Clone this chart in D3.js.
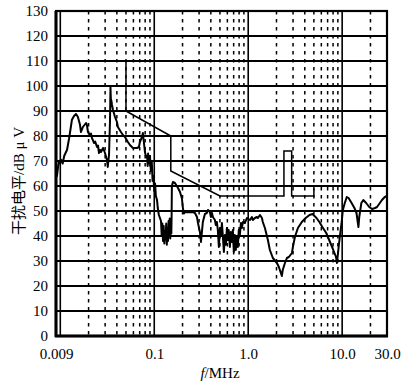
<!DOCTYPE html>
<html>
<head>
<meta charset="utf-8">
<script src="https://cdn.jsdelivr.net/npm/d3@7"></script>
<style>
  body { margin: 0; background: #fff; }
  svg { display: block; }
  text { font-family: "Liberation Serif", "Noto Sans CJK SC", serif; fill: #000; }
</style>
</head>
<body>
<svg width="417" height="384"></svg>
<script>
// measured trace: [frequency MHz, level dBuV]
var traceData = [
  [0.009, 66], [0.0092, 64], [0.0095, 68], [0.0098, 70], [0.0102, 70.5], [0.0106, 69],
  [0.011, 72], [0.0118, 74.5], [0.0124, 79], [0.013, 84], [0.0133, 86.5], [0.014, 88],
  [0.0147, 88.8], [0.0154, 87.6], [0.0162, 84.5], [0.0166, 81.6], [0.0174, 83.6],
  [0.0188, 85.2], [0.0192, 84.4], [0.0197, 81.6], [0.0207, 80.4], [0.0212, 81], [0.0217, 79.2],
  [0.0222, 78.4], [0.0228, 77.2], [0.0235, 77.8], [0.0246, 75.6], [0.0252, 76.2], [0.0258, 73.2],
  [0.0265, 74.4], [0.0271, 73.6], [0.0285, 75.2], [0.0299, 73.2], [0.0314, 70.4], [0.032, 67.6],
  [0.033, 72.4], [0.0338, 86], [0.0342, 99.6], [0.0345, 95], [0.035, 94], [0.0355, 92.4],
  [0.0364, 90.4], [0.0382, 87.6], [0.0401, 85.6], [0.041, 83.6], [0.0442, 81.6], [0.0464, 80.4],
  [0.0488, 79.6], [0.0524, 77.6], [0.0551, 76.4], [0.0593, 75.2], [0.0655, 75.2], [0.0687, 75.6],
  [0.0703, 77.6], [0.074, 79.6], [0.0757, 81.2], [0.0775, 77.6], [0.0796, 73.6], [0.082, 71.5],
  [0.084, 72], [0.085, 68], [0.086, 73], [0.088, 69], [0.09, 72], [0.092, 66], [0.094, 70],
  [0.096, 62], [0.098, 64], [0.1, 58], [0.102, 61], [0.104, 56], [0.107, 54.4], [0.109, 51.2],
  [0.112, 48.4], [0.118, 46], [0.12, 40], [0.122, 45], [0.124, 38], [0.126, 44], [0.128, 37],
  [0.13, 42], [0.132, 38.5], [0.134, 45], [0.136, 36.5], [0.138, 43], [0.14, 38], [0.142, 46],
  [0.144, 40], [0.146, 47], [0.148, 39], [0.15, 45], [0.152, 41], [0.153, 48], [0.154, 60],
  [0.158, 61.6], [0.166, 61.2], [0.179, 59.2], [0.188, 57.6], [0.197, 55], [0.202, 51],
  [0.207, 49], [0.212, 49.6], [0.24, 49.5], [0.258, 49.6], [0.271, 49.2], [0.285, 47.6],
  [0.292, 45.2], [0.306, 41.6], [0.314, 37.6], [0.321, 41.2], [0.329, 45.6], [0.346, 48.8],
  [0.363, 49.2], [0.373, 50.4], [0.391, 49.6], [0.401, 47.6], [0.411, 49.2], [0.421, 47.6],
  [0.442, 46.4], [0.452, 44.4], [0.464, 45.6], [0.475, 42.4], [0.487, 35.6], [0.5, 43.2],
  [0.512, 40], [0.525, 45.2], [0.538, 39.6], [0.551, 33.6], [0.565, 40.4], [0.58, 36.5],
  [0.593, 43.2], [0.607, 38.4], [0.62, 42.4], [0.638, 35.6], [0.653, 41.6], [0.67, 37.6],
  [0.686, 42.4], [0.703, 33.6], [0.72, 40.4], [0.738, 34.4], [0.757, 39.6], [0.775, 35.6],
  [0.794, 42.4], [0.815, 40.5], [0.836, 45.2], [0.856, 43.2], [0.878, 45.6], [0.922, 45.2],
  [0.968, 47.2], [1.043, 46.4], [1.095, 47.6],
  [1.12, 46.4], [1.178, 47.2], [1.238, 47.6], [1.268, 47.2], [1.332, 48.4], [1.40, 47.2],
  [1.43, 45.6], [1.506, 43.2], [1.62, 38.4], [1.70, 34.4], [1.83, 31.2], [2.02, 29.2],
  [2.12, 27.6], [2.28, 24], [2.33, 26.4], [2.46, 29.2], [2.58, 31.2], [2.71, 31.6],
  [2.92, 33.2], [2.99, 35.6], [3.14, 39.6], [3.38, 43.2], [3.72, 45.6], [4.09, 47.2],
  [4.49, 48.4], [4.83, 48.8], [5.33, 47.2], [5.72, 45.6], [6.15, 43.6], [6.77, 41.2],
  [7.27, 38.4], [7.81, 35.6], [8.2, 33.6], [8.6, 31.6], [8.8, 29.2], [9.25, 36.8],
  [9.93, 46.4], [10.17, 50.4], [10.66, 53.2], [11.2, 55.6], [11.7, 55.2], [12.6, 53.2],
  [13.5, 51.2], [14.2, 49.2], [14.9, 43.6], [15.2, 47.6], [16.0, 53.2], [16.8, 54.4],
  [18.0, 53.2], [19.4, 51.6], [20.8, 50.8], [22.4, 51.2], [23.5, 51.6], [25.2, 53.2],
  [26.5, 54.4], [28.4, 55.6], [30, 56]
];

// limit line
var limitFreq = [0.05, 0.05, 0.15, 0.15, 0.5, 2.4, 2.4, 2.9, 2.9, 5, 5];
var limitLevel = [110, 90, 80, 66, 56, 56, 74, 74, 56, 56, 59];

// axis ticks
var yTicks = [0, 10, 20, 30, 40, 50, 60, 70, 80, 90, 100, 110, 120, 130];
var xTickValues = [0.009, 0.1, 1, 10, 30];
var xTickLabels = ['0.009', '0.1', '1.0', '10.0', '30.0'];
var majorLines = [0.01, 0.1, 1, 10];

var svg = d3.select('svg');

var plotLeft = 56, plotRight = 387, plotTop = 11, plotBottom = 336;

var x = d3.scaleLog().domain([0.009, 30]).range([plotLeft, plotRight]);
var y = d3.scaleLinear().domain([0, 130]).range([plotBottom, plotTop]);

// minor (dotted) frequency lines
var minorLines = [];
[0.01, 0.1, 1, 10].forEach(function(dec) {
    for (var k = 2; k <= 9; k++) {
        var f = dec * k;
        if (f < 30) minorLines.push(f);
    }
});

svg.append('g')
    .selectAll('line')
    .data(minorLines)
    .enter()
    .append('line')
    .attr('x1', d => x(d)).attr('x2', d => x(d))
    .attr('y1', plotTop).attr('y2', plotBottom)
    .attr('stroke', '#000')
    .attr('stroke-width', 1.5)
    .attr('stroke-dasharray', '3.5,4.5');

// decade lines
svg.append('g')
    .selectAll('line')
    .data(majorLines)
    .enter()
    .append('line')
    .attr('x1', d => x(d)).attr('x2', d => x(d))
    .attr('y1', plotTop).attr('y2', plotBottom)
    .attr('stroke', '#000')
    .attr('stroke-width', 1.6);

// horizontal grid
svg.append('g')
    .selectAll('line')
    .data(yTicks)
    .enter()
    .append('line')
    .attr('x1', plotLeft).attr('x2', plotRight)
    .attr('y1', d => y(d)).attr('y2', d => y(d))
    .attr('stroke', '#000')
    .attr('stroke-width', 2.2);

// frame
svg.append('rect')
    .attr('x', plotLeft).attr('y', plotTop)
    .attr('width', plotRight - plotLeft).attr('height', plotBottom - plotTop)
    .attr('fill', 'none')
    .attr('stroke', '#000')
    .attr('stroke-width', 2.2);
svg.append('line')
    .attr('x1', plotLeft).attr('x2', plotLeft)
    .attr('y1', plotTop).attr('y2', plotBottom + 1)
    .attr('stroke', '#000').attr('stroke-width', 3);
svg.append('line')
    .attr('x1', plotLeft - 1).attr('x2', plotRight + 1)
    .attr('y1', plotBottom).attr('y2', plotBottom)
    .attr('stroke', '#000').attr('stroke-width', 3);

// limit line
var line = d3.line()
    .x(d => x(d[0]))
    .y(d => y(d[1]));
svg.append('path')
    .datum(limitFreq.map((f, i) => [f, limitLevel[i]]))
    .attr('d', line)
    .attr('fill', 'none')
    .attr('stroke', '#000')
    .attr('stroke-width', 1.5);

// trace
svg.append('path')
    .datum(traceData)
    .attr('d', line)
    .attr('fill', 'none')
    .attr('stroke', '#000')
    .attr('stroke-width', 2)
    .attr('stroke-linejoin', 'round');

// y axis labels
var yAxis = d3.axisLeft(y).tickValues(yTicks).tickSize(0).tickPadding(8);
var gy = svg.append('g')
    .attr('transform', 'translate(' + plotLeft + ',0)')
    .call(yAxis);
gy.select('.domain').remove();
gy.selectAll('text')
    .style('font-size', '15px')
    .style('font-family', '"Liberation Serif", serif');

// x axis labels
var xAxis = d3.axisBottom(x)
    .tickValues(xTickValues)
    .tickFormat((d, i) => xTickLabels[i])
    .tickSize(0).tickPadding(12);
var gx = svg.append('g')
    .attr('transform', 'translate(0,' + plotBottom + ')')
    .call(xAxis);
gx.select('.domain').remove();
gx.selectAll('text')
    .style('font-size', '15px')
    .style('font-family', '"Liberation Serif", serif');

// x title
var xt = svg.append('text')
    .attr('x', 220)
    .attr('y', 378)
    .attr('text-anchor', 'middle')
    .style('font-size', '15px');
xt.append('tspan').style('font-style', 'italic').text('f');
xt.append('tspan').text('/MHz');

// y title
svg.append('text')
    .attr('text-anchor', 'middle')
    .attr('transform', 'translate(24,181) rotate(-90)')
    .style('font-size', '15px')
    .text('干扰电平/dB μ V');
</script>
</body>
</html>
